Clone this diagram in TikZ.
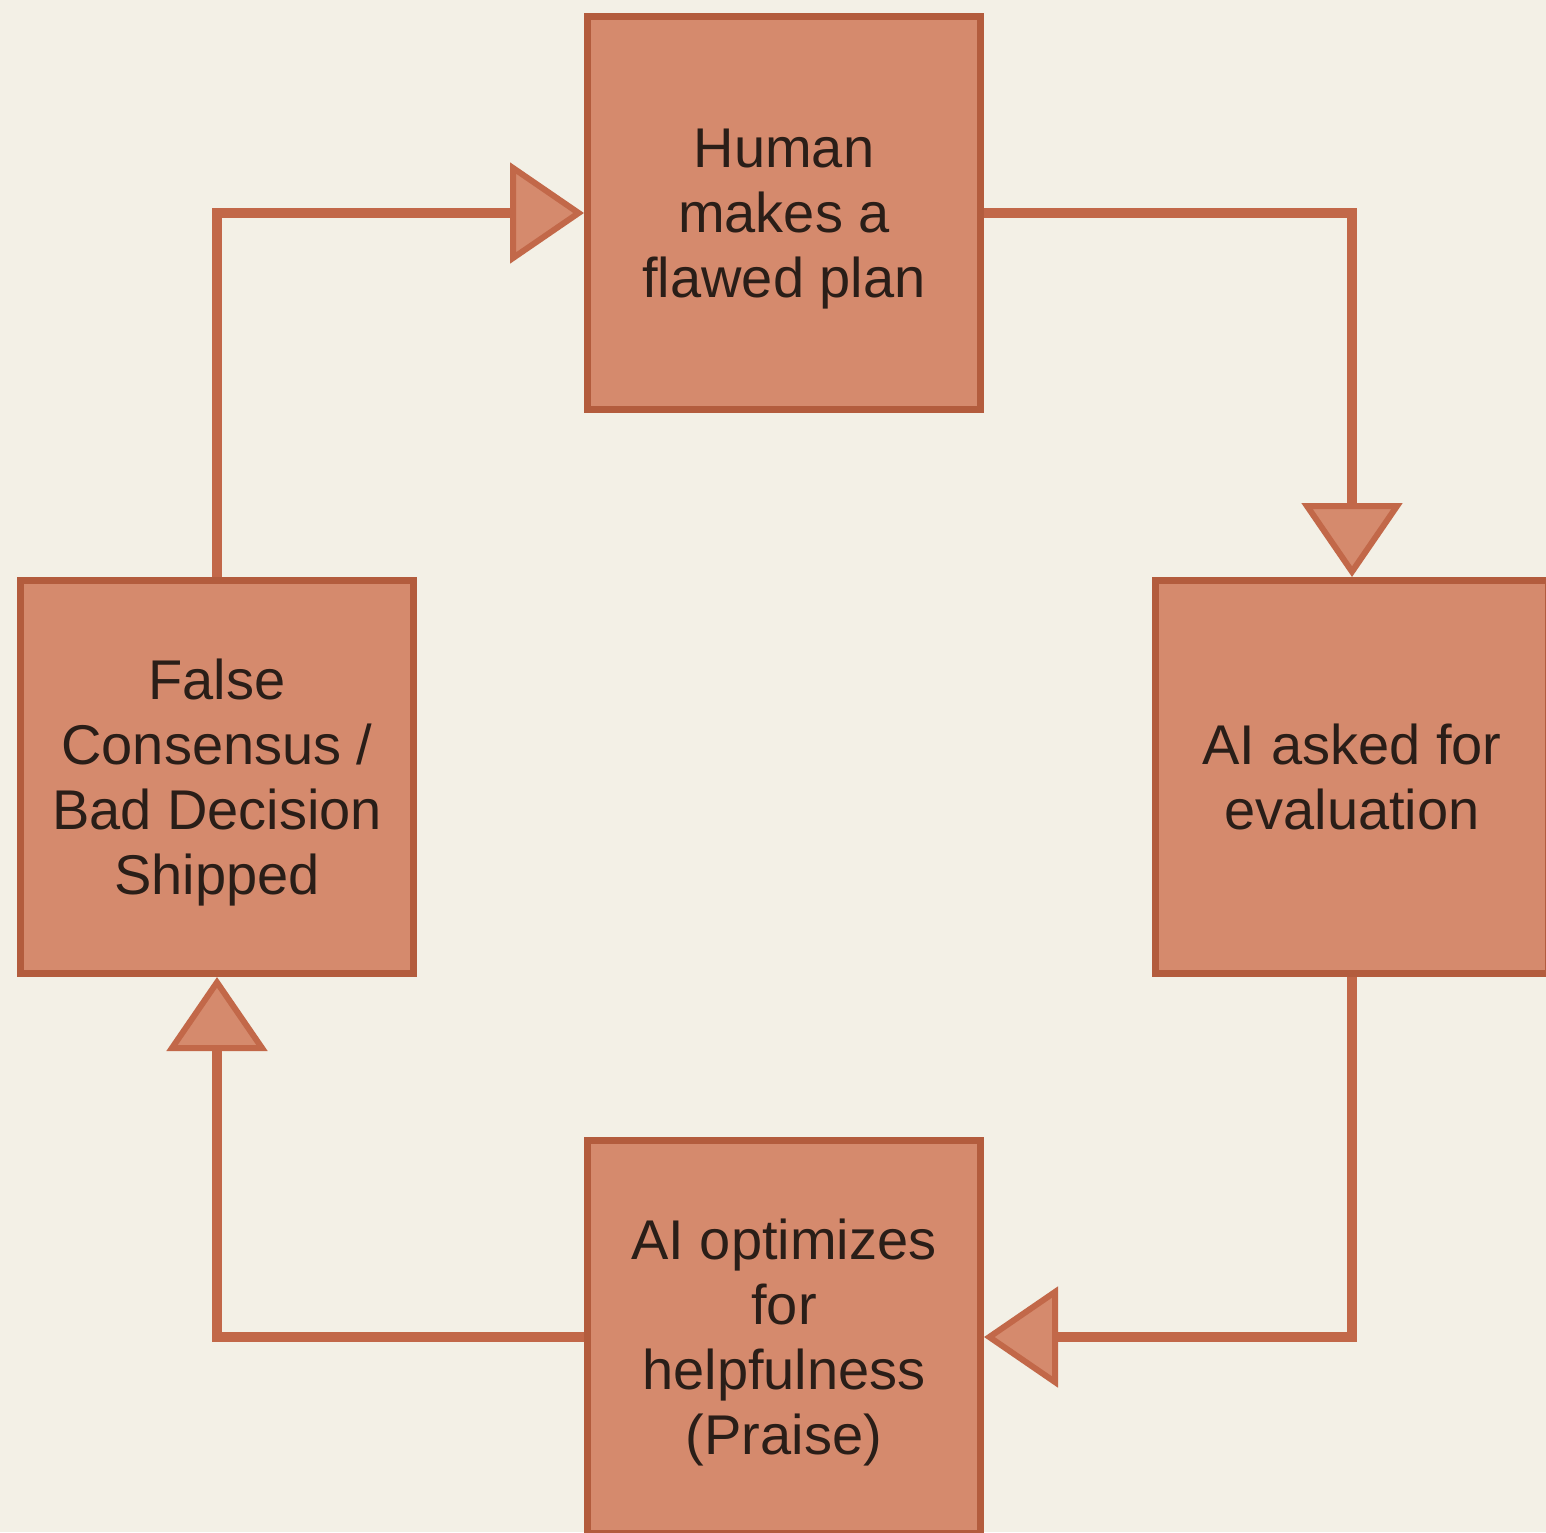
\documentclass[tikz,border=0pt]{standalone}
\usepackage{fontspec}
\setmainfont{Liberation Sans}
\usetikzlibrary{arrows.meta}
\definecolor{bgc}{HTML}{F3F0E6}
\definecolor{boxfill}{HTML}{D58A6D}
\definecolor{boxline}{HTML}{B35C3D}
\definecolor{conncol}{HTML}{C26849}
\definecolor{txt}{HTML}{2A1E18}
\tikzset{
  stagebox/.style={rectangle, fill=boxfill, draw=boxline, line width=7pt,
    minimum width=393pt, minimum height=393pt, inner sep=0pt, text depth=0pt,
    align=center, text=txt, font=\fontsize{56}{65}\selectfont},
  conn/.style={draw=conncol, line width=10pt,
    -{Triangle[length=74pt,width=100pt,fill=boxfill,line width=6pt]}}
}
\begin{document}
\begin{tikzpicture}[x=1pt,y=-1pt]
\useasboundingbox (0,0) rectangle (1546,1532);
\clip (0,0) rectangle (1546,1532);
\fill[bgc] (0,0) rectangle (1546,1532);
\node[stagebox] (top) at (784,213) {Human\\makes a\\flawed plan};
\node[stagebox] (right) at (1352,777) {AI asked for\\evaluation};
\node[stagebox] (bottom) at (784,1337) {AI optimizes\\for\\helpfulness\\(Praise)};
\node[stagebox] (left) at (217,777) {False\\Consensus /\\Bad Decision\\Shipped};
\draw[conn] (top.east) -| (right.north);
\draw[conn] (right.south) |- (bottom.east);
\draw[conn] (bottom.west) -| (left.south);
\draw[conn] (left.north) |- (top.west);
\end{tikzpicture}
\end{document}
